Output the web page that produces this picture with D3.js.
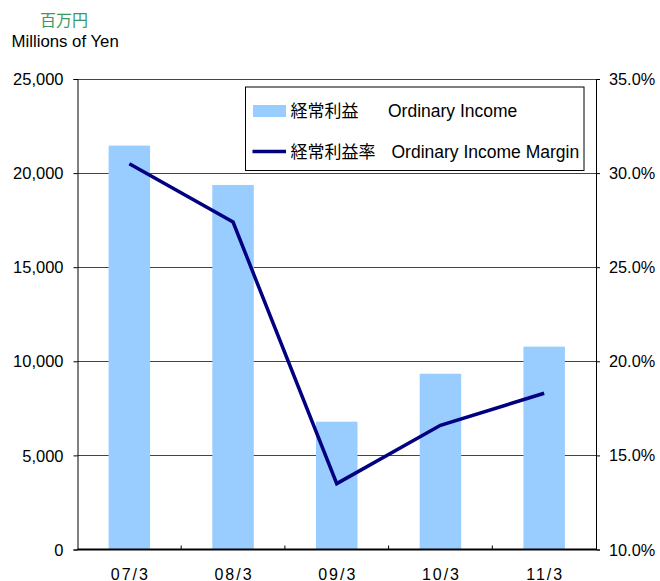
<!DOCTYPE html>
<html>
<head>
<meta charset="utf-8">
<script src="https://cdn.jsdelivr.net/npm/d3@7"></script>
<style>
  body { margin: 0; background: #fff; }
  text { font-family: "Liberation Sans", Arial, sans-serif; fill: #000; }
  .jp { font-family: "Noto Sans CJK JP", sans-serif; }
</style>
</head>
<body>
<div id="chart"></div>
<script>
// values
var periods = ["07/3", "08/3", "09/3", "10/3", "11/3"]
var ordinaryIncome = [21460, 19370, 6790, 9340, 10780]      // 百万円
var incomeMargin = [30.5, 27.4, 13.5, 16.6, 18.3]           // %
var leftTicks = [0, 5000, 10000, 15000, 20000, 25000]
var rightTicks = [10, 15, 20, 25, 30, 35]

var width = 660, height = 581
var margin = { top: 79, right: 64, bottom: 31.5, left: 77.5 }
var w = width - margin.left - margin.right
var h = height - margin.top - margin.bottom

var svg = d3.select("#chart").append("svg")
    .attr("width", width)
    .attr("height", height)

var x = d3.scaleBand()
    .domain(periods)
    .range([0, w])
    .paddingInner(0.6)
    .paddingOuter(0.3)

var y = d3.scaleLinear().domain([0, 25000]).range([h, 0])
var y2 = d3.scaleLinear().domain([10, 35]).range([h, 0])

// unit titles
svg.append("text")
    .attr("class", "jp")
    .attr("x", 40)
    .attr("y", 25.5)
    .style("font-size", "16px")
    .style("fill", "#3a9a62")
    .text("百万円")

svg.append("text")
    .attr("x", 11.5)
    .attr("y", 46.5)
    .style("font-size", "16.8px")
    .text("Millions of Yen")

var g = svg.append("g")
    .attr("transform", "translate(" + margin.left + "," + margin.top + ")")

// gridlines
g.selectAll(".grid")
    .data(leftTicks.slice(1))
    .enter().append("line")
    .attr("class", "grid")
    .attr("x1", 0)
    .attr("x2", w)
    .attr("y1", function(d) { return Math.round(y(d)) + 0.5 })
    .attr("y2", function(d) { return Math.round(y(d)) + 0.5 })
    .style("stroke", "#444")
    .style("stroke-width", 1)

// bars
g.selectAll(".bar")
    .data(ordinaryIncome)
    .enter().append("rect")
    .attr("class", "bar")
    .attr("x", function(d, i) { return x(periods[i]) })
    .attr("y", function(d) { return y(d) })
    .attr("width", x.bandwidth())
    .attr("height", function(d) { return h - y(d) })
    .style("fill", "#99ccff")

// left axis
var leftAxis = g.append("g")
    .call(d3.axisLeft(y).tickValues(leftTicks).tickSize(4).tickPadding(10)
        .tickFormat(d3.format(",")))
leftAxis.select(".domain").attr("stroke", "#000")
leftAxis.selectAll("text").style("font-size", "16.5px").attr("dy", "0.34em")

// right axis
var rightAxis = g.append("g")
    .attr("transform", "translate(" + w + ",0)")
    .call(d3.axisRight(y2).tickValues(rightTicks).tickSize(4).tickPadding(9)
        .tickFormat(function(d) { return d.toFixed(1) + "%" }))
rightAxis.select(".domain").attr("stroke", "#000")
rightAxis.selectAll("text").style("font-size", "16.3px").attr("dy", "0.34em")

// bottom axis
g.append("line")
    .attr("x1", 0).attr("x2", w)
    .attr("y1", h).attr("y2", h)
    .style("stroke", "#000")
    .style("stroke-width", 2)

g.selectAll(".xtick")
    .data(periods.slice(0, -1))
    .enter().append("line")
    .attr("class", "xtick")
    .attr("x1", function(d) { return x(d) + x.bandwidth() / 2 + x.step() / 2 })
    .attr("x2", function(d) { return x(d) + x.bandwidth() / 2 + x.step() / 2 })
    .attr("y1", h)
    .attr("y2", h - 4)
    .style("stroke", "#000")

g.selectAll(".xlabel")
    .data(periods)
    .enter().append("text")
    .attr("class", "xlabel")
    .attr("x", function(d) { return x(d) + x.bandwidth() / 2 + 1 })
    .attr("y", h + 30)
    .style("text-anchor", "middle")
    .style("font-size", "16px")
    .style("letter-spacing", "2px")
    .text(function(d) { return d })

// margin line
var line = d3.line()
    .x(function(d, i) { return x(periods[i]) + x.bandwidth() / 2 })
    .y(function(d) { return y2(d) })

g.append("path")
    .datum(incomeMargin)
    .attr("d", line)
    .style("fill", "none")
    .style("stroke", "#000080")
    .style("stroke-width", 3.5)
    .style("stroke-linejoin", "miter")

// legend
var legend = svg.append("g").attr("transform", "translate(245.5,87)")

legend.append("rect")
    .attr("width", 338.5)
    .attr("height", 83.5)
    .style("fill", "#fff")
    .style("stroke", "#000")
    .style("stroke-width", 1)

legend.append("rect")
    .attr("x", 7.5).attr("y", 18)
    .attr("width", 33).attr("height", 12)
    .style("fill", "#99ccff")

legend.append("line")
    .attr("x1", 7).attr("x2", 40.5)
    .attr("y1", 64.5).attr("y2", 64.5)
    .style("stroke", "#000080")
    .style("stroke-width", 3.5)

legend.append("text").attr("class", "jp")
    .attr("x", 45).attr("y", 29.5)
    .style("font-size", "17px")
    .text("経常利益")
legend.append("text")
    .attr("x", 142.5).attr("y", 30)
    .style("font-size", "17.5px")
    .text("Ordinary Income")

legend.append("text").attr("class", "jp")
    .attr("x", 45).attr("y", 70.5)
    .style("font-size", "17px")
    .text("経常利益率")
legend.append("text")
    .attr("x", 146).attr("y", 71)
    .style("font-size", "17.5px")
    .text("Ordinary Income Margin")
</script>
</body>
</html>
